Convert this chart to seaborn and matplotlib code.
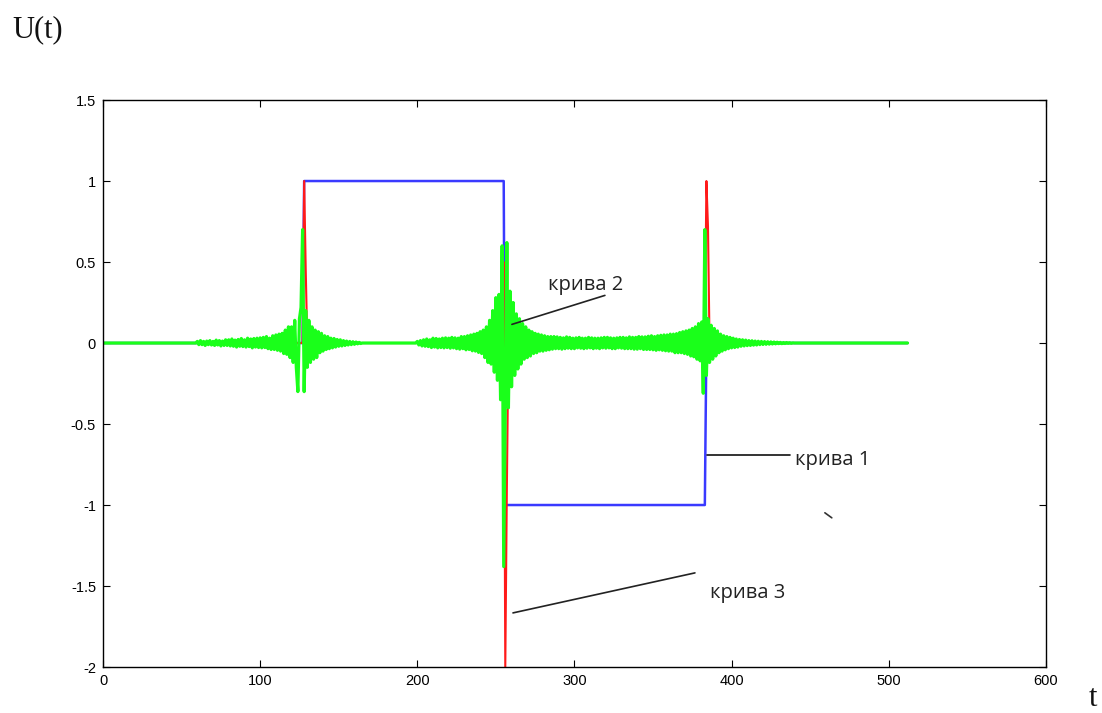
import numpy as np
import pandas as pd
import matplotlib.pyplot as plt
import seaborn as sns

# ---- data ----
n_samples = 513  # t = 0 .. 512

# curve 1 (blue): piecewise levels
blue_levels = [0, 1, -1, 0]
blue_counts = [128, 128, 128, 129]

# curve 3 (red): spikes, zero elsewhere
red_t = [128, 129, 255, 256, 257, 384, 385]
red_u = [1.0, 0.45, 0.5, -2.0, -0.9, 1.0, 0.72]

# curve 2 (green): oscillation around the jumps, zero elsewhere
green_a_start = 60
green_a = [
    0.01, -0.01, 0.015, -0.01, 0.01, -0.015, 0.012, -0.01, 0.015, -0.012,
    0.01, -0.015, 0.018, -0.012, 0.015, -0.018, 0.012, -0.015, 0.02, -0.015,
    0.02, -0.018, 0.025, -0.02, 0.018, -0.025, 0.022, -0.02, 0.028, -0.022,
    0.02, -0.025, 0.03, -0.022, 0.025, -0.03, 0.028, -0.025, 0.03, -0.028,
    0.032, -0.03, 0.035, -0.028, 0.04, -0.035, 0.03, -0.04, 0.045, -0.04,
    0.05, -0.045, 0.055, -0.05, 0.06, -0.065, 0.08, -0.07, 0.1, -0.09,
    0.1, -0.12, 0.14, -0.15, -0.3, 0.15, 0.22, 0.7, -0.3, 0.2,
    -0.15, 0.14, -0.12, 0.1, -0.1, 0.08, -0.09, 0.07, -0.06, 0.06,
    -0.05, 0.045, -0.04, 0.04, -0.035, 0.03, -0.03, 0.028, -0.025, 0.022,
    -0.02, 0.02, -0.018, 0.015, -0.015, 0.012, -0.012, 0.01, -0.01, 0.008,
    -0.008, 0.006, -0.005, 0.004, -0.003, 0.0,
]
green_b_start = 200
green_b = [
    0.01, -0.012, 0.015, -0.018, 0.02, -0.02, 0.025, -0.022, 0.02, -0.028,
    0.03, -0.025, 0.028, -0.03, 0.025, -0.028, 0.03, -0.03, 0.032, -0.028,
    0.03, -0.032, 0.035, -0.03, 0.032, -0.035, 0.03, -0.038, 0.04, -0.035,
    0.04, -0.042, 0.045, -0.04, 0.05, -0.048, 0.055, -0.05, 0.06, -0.058,
    0.07, -0.065, 0.08, -0.09, 0.1, -0.12, 0.14, -0.13, 0.2, -0.18,
    0.28, -0.23, 0.3, -0.35, 0.6, -1.38, -0.35, 0.62, -0.4, 0.32,
    -0.27, 0.25, -0.2, 0.18, -0.16, 0.15, -0.13, 0.12, -0.1, 0.1,
    -0.09, 0.08, -0.08, 0.07, -0.065, 0.06, -0.06, 0.055, -0.05, 0.05,
    -0.05, 0.045, -0.045, 0.04, -0.042, 0.04, -0.038, 0.04, -0.035, 0.038,
    -0.035, 0.035, -0.038, 0.032, -0.035, 0.038, -0.032, 0.035, -0.035, 0.03,
    -0.035, 0.032, -0.03, 0.035, -0.032, 0.03, -0.035, 0.03, -0.032, 0.035,
    -0.03, 0.032, -0.035, 0.03, -0.032, 0.03, -0.035, 0.032, -0.03, 0.035,
    -0.032, 0.035, -0.03, 0.032, -0.035, 0.03, -0.035, 0.032, -0.03, 0.035,
    -0.032, 0.035, -0.035, 0.032, -0.035, 0.038, -0.035, 0.035, -0.038, 0.035,
    -0.038, 0.04, -0.035, 0.038, -0.04, 0.038, -0.04, 0.042, -0.04, 0.045,
    -0.042, 0.04, -0.045, 0.045, -0.042, 0.048, -0.045, 0.05, -0.048, 0.05,
    -0.05, 0.055, -0.05, 0.055, -0.06, 0.058, -0.06, 0.065, -0.06, 0.07,
    -0.065, 0.075, -0.07, 0.08, -0.08, 0.09, -0.085, 0.1, -0.1, 0.12,
    -0.11, 0.13, -0.31, 0.7, -0.2, 0.15, -0.12, 0.11, -0.1, 0.09,
    -0.08, 0.075, -0.06, 0.055, -0.05, 0.045, -0.042, 0.04, -0.035, 0.035,
    -0.03, 0.03, -0.028, 0.025, -0.025, 0.022, -0.02, 0.02, -0.018, 0.018,
    -0.016, 0.015, -0.015, 0.014, -0.013, 0.012, -0.012, 0.011, -0.01, 0.01,
    -0.009, 0.009, -0.008, 0.008, -0.007, 0.007, -0.006, 0.006, -0.005, 0.005,
    -0.004, 0.004, -0.004, 0.003, -0.003, 0.003, -0.002, 0.002, -0.002, 0.001,
    0.0,
]

x_ticks = [0, 100, 200, 300, 400, 500, 600]
y_ticks = [-2, -1.5, -1, -0.5, 0, 0.5, 1, 1.5]
y_ticklabels = ['-2', '-1.5', '-1', '-0.5', '0', '0.5', '1', '1.5']

# ---- build series ----
t = np.arange(n_samples)
blue = np.repeat(blue_levels, blue_counts).astype(float)
red = np.zeros(n_samples)
red[red_t] = red_u
green = np.zeros(n_samples)
green[green_a_start:green_a_start + len(green_a)] = green_a
green[green_b_start:green_b_start + len(green_b)] = green_b

df = pd.DataFrame({'t': t, 'blue': blue, 'red': red, 'green': green})

sns.set_theme(style='white')
plt.rcParams['font.family'] = ['Liberation Sans', 'DejaVu Sans']

fig = plt.figure(figsize=(11.02, 7.13), dpi=100)
ax = fig.add_axes([0.0935, 0.0645, 0.8555, 0.7952])

sns.lineplot(data=df, x='t', y='blue', color='#3a3aff', lw=1.8, estimator=None, sort=False, ax=ax)
sns.lineplot(data=df, x='t', y='red', color='#ff1a1a', lw=1.5, estimator=None, sort=False, ax=ax)
sns.lineplot(data=df, x='t', y='green', color='#1aff1a', lw=2.3, estimator=None, sort=False, ax=ax)

ax.set_xlim(0, 600)
ax.set_ylim(-2, 1.5)
ax.set_xticks(x_ticks)
ax.set_xticklabels([str(v) for v in x_ticks])
ax.set_yticks(y_ticks)
ax.set_yticklabels(y_ticklabels)
ax.tick_params(direction='in', bottom=True, left=True, top=True, right=True,
               labelbottom=True, labelleft=True, labeltop=False, labelright=False,
               labelsize=10.5, length=5, width=0.8, colors='black', pad=5)
ax.set_xlabel('')
ax.set_ylabel('')
for s in ax.spines.values():
    s.set_color('black')
    s.set_linewidth(1.0)

# annotations
lbl_font = dict(family=['Open Sans', 'DejaVu Sans'], fontsize=14.5, color='#222222')
ax.plot([260.2, 319.4], [0.115, 0.294], color='#222222', lw=1.2)
ax.text(283, 0.36, 'крива 2', va='center', ha='left', **lbl_font)
ax.plot([384.3, 437.1], [-0.69, -0.69], color='#111111', lw=1.2)
ax.text(440.3, -0.72, 'крива 1', va='center', ha='left', **lbl_font)
ax.plot([260.9, 376.7], [-1.666, -1.419], color='#222222', lw=1.2)
ax.text(386.2, -1.545, 'крива 3', va='center', ha='left', **lbl_font)
ax.plot([459.4, 463.8], [-1.048, -1.079], color='#333333', lw=1.2)

fig.text(12 / 1102, 1 - 30 / 713, 'U(t)', family=['Liberation Serif', 'DejaVu Serif'],
         fontsize=22, va='center', ha='left', color='#111111')
fig.text(1089 / 1102, 1 - 698 / 713, 't', family=['Liberation Serif', 'DejaVu Serif'],
         fontsize=22, va='center', ha='left', color='#111111')

fig.savefig('out.png', dpi=100)
